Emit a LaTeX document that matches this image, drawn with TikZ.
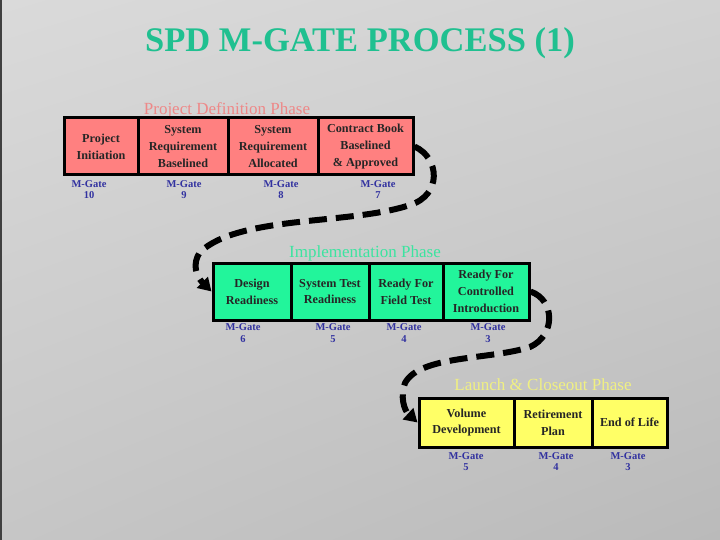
\documentclass[tikz,border=0pt]{standalone}
\usepackage{fontspec}
\setmainfont{Liberation Serif}
\usetikzlibrary{arrows.meta,shadings}
\definecolor{bgUL}{RGB}{218,218,218}
\definecolor{bgUR}{RGB}{210,210,210}
\definecolor{bgLL}{RGB}{198,198,198}
\definecolor{bgLR}{RGB}{186,186,186}
\definecolor{titlecol}{RGB}{32,192,144}
\definecolor{redfill}{RGB}{255,128,128}
\definecolor{redlabel}{RGB}{238,136,136}
\definecolor{greenfill}{RGB}{34,245,155}
\definecolor{greenlabel}{RGB}{60,228,160}
\definecolor{yellowfill}{RGB}{255,255,102}
\definecolor{yellowlabel}{RGB}{240,240,130}
\definecolor{gatecol}{RGB}{50,50,160}
\tikzset{
  stagebox/.style={draw=black, line width=3pt, inner sep=0pt, align=center,
    font=\fontsize{12.2}{16.8}\selectfont\bfseries, text=black!85},
  redbox/.style={stagebox, fill=redfill, minimum height=57pt},
  greenbox/.style={stagebox, fill=greenfill, minimum height=57pt},
  yellowbox/.style={stagebox, fill=yellowfill, minimum height=49pt},
  gatelabel/.style={align=center, inner sep=0pt, text=gatecol,
    font=\fontsize{10.5}{11.5}\selectfont\bfseries},
  phaselabel/.style={inner sep=0pt, font=\fontsize{17}{20}\selectfont},
  flowarrow/.style={line width=6pt, black, dash pattern=on 18pt off 9pt,
    -{Triangle[length=13pt,width=15pt]}}
}
\begin{document}
\begin{tikzpicture}[x=1pt,y=-1pt]
\useasboundingbox (0,0) rectangle (720,540);
\shade[upper left=bgUL, upper right=bgUR, lower left=bgLL, lower right=bgLR]
  (0,0) rectangle (720,540);
\fill[black!75] (0,0) rectangle (1.5,540);

\node[inner sep=0pt, text=titlecol, font=\fontsize{34.5}{40}\selectfont\bfseries] (title) at (360,43) {SPD M-GATE PROCESS (1)};

% Project Definition Phase
\node[phaselabel, text=redlabel] (ph1) at (227,110) {Project Definition Phase};
\node[redbox, minimum width=74pt] (pi) at (101,146.5) {Project\\Initiation};
\node[redbox, minimum width=90pt] (srb) at (183,146.5) {System\\Requirement\\Baselined};
\node[redbox, minimum width=90pt] (sra) at (273,146.5) {System\\Requirement\\Allocated};
\node[redbox, minimum width=95pt] (cb) at (365.5,146.5) {Contract Book\\Baselined\\\& Approved};
\node[gatelabel] (g10) at (89,189.5) {M-Gate\\10};
\node[gatelabel] (g9) at (184,189.5) {M-Gate\\9};
\node[gatelabel] (g8) at (281,189.5) {M-Gate\\8};
\node[gatelabel] (g7) at (378,189.5) {M-Gate\\7};

% Implementation Phase
\node[phaselabel, text=greenlabel] (ph2) at (365,253) {Implementation Phase};
\node[greenbox, minimum width=78pt] (dr) at (252,291.5) {Design\\Readiness};
\node[greenbox, minimum width=78pt] (str) at (330,291.5) {System Test\\Readiness};
\node[greenbox, minimum width=74pt] (rft) at (406,291.5) {Ready For\\Field Test};
\node[greenbox, minimum width=86pt] (rci) at (486,291.5) {Ready For\\Controlled\\Introduction};
\node[gatelabel] (g6) at (243,333) {M-Gate\\6};
\node[gatelabel] (g5a) at (333,333) {M-Gate\\5};
\node[gatelabel] (g4a) at (404,333) {M-Gate\\4};
\node[gatelabel] (g3a) at (488,333) {M-Gate\\3};

% Launch & Closeout Phase
\node[phaselabel, text=yellowlabel] (ph3) at (543,385) {Launch \& Closeout Phase};
\node[yellowbox, minimum width=95pt] (vd) at (466.5,422.5) {Volume\\Development};
\node[yellowbox, minimum width=78pt] (rp) at (553,422.5) {Retirement\\Plan};
\node[yellowbox, minimum width=75pt] (eol) at (629.5,422.5) {End of Life};
\node[gatelabel] (g5b) at (466,461.5) {M-Gate\\5};
\node[gatelabel] (g4b) at (556,461.5) {M-Gate\\4};
\node[gatelabel] (g3b) at (628,461.5) {M-Gate\\3};

% connectors
\draw[flowarrow] (cb.east) .. controls (440,158) and (442,195) .. (410,205)
  .. controls (350,225) and (240,215) .. (200,252)
  .. controls (192,264) and (196,276) .. (dr.west);
\draw[flowarrow] (rci.east) .. controls (555,300) and (556,335) .. (530,347)
  .. controls (490,360) and (420,355) .. (405,383)
  .. controls (400,396) and (404,410) .. (vd.west);
\end{tikzpicture}
\end{document}
